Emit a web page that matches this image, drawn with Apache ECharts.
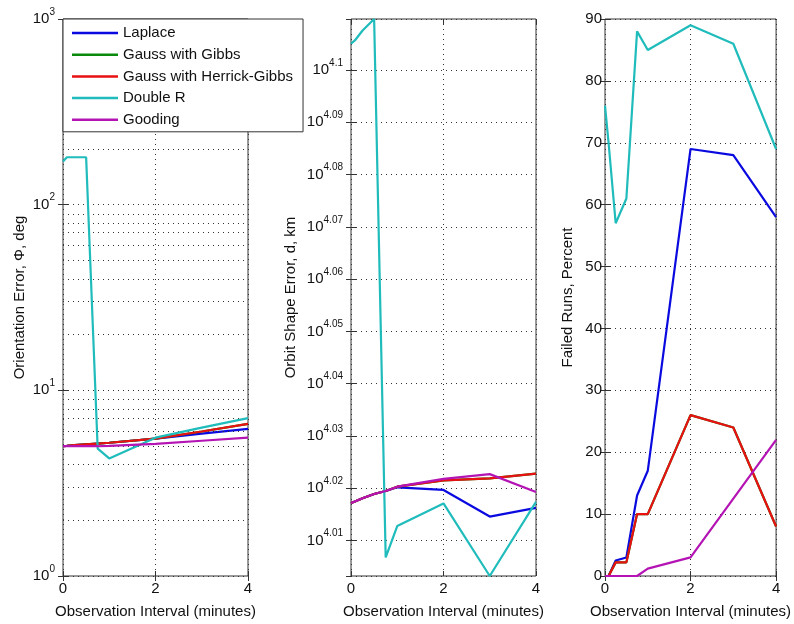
<!DOCTYPE html>
<html><head><meta charset="utf-8">
<script src="https://cdn.jsdelivr.net/npm/echarts@6/dist/echarts.min.js"></script>
<style>html,body{margin:0;padding:0;background:#fff}#c{width:794px;height:624px}</style>
</head><body><div id="c"></div>
<script>
// ---- data ----
const seriesNames = ['Laplace', 'Gauss with Gibbs', 'Gauss with Herrick-Gibbs', 'Double R', 'Gooding'];
const seriesColors = ['#0a0ae0', '#0a8a0a', '#e81010', '#20bcbc', '#b414b4'];
const intervalMinutes = [0, 0.0833, 0.25, 0.5, 0.75, 1, 2, 3, 4];

// Orientation error, deg (log scale)
const orientLaplace  = [5.0, 5.02, 5.07, 5.12, 5.17, 5.22, 5.5, 5.85, 6.2];
const orientGibbs    = [5.0, 5.02, 5.07, 5.12, 5.17, 5.22, 5.5, 6.0, 6.6];
const orientHerrick  = [5.0, 5.02, 5.07, 5.12, 5.17, 5.22, 5.5, 6.0, 6.6];
const orientDoubleR  = [171, 180, 180, 180, 4.85, 4.3, 5.56, 6.3, 7.08];
const orientGooding  = [5.0, 5.0, 5.0, 5.0, 5.0, 5.02, 5.15, 5.35, 5.56];
const orientMinorTicks = [2,3,4,5,6,7,8,9,20,30,40,50,60,70,80,90,200,300,400,500,600,700,800,900];

// Orbit shape error, km (log scale)
const shapeLaplace = [10404, 10411, 10426, 10445, 10459, 10476, 10464, 10342, 10382];
const shapeGibbs   = [10404, 10411, 10426, 10445, 10459, 10479, 10508, 10517, 10539];
const shapeHerrick = [10404, 10411, 10426, 10445, 10459, 10479, 10508, 10517, 10539];
const shapeDoubleR = [12735, 12753, 12809, 12874, 10158, 10299, 10402, 10075, 10409];
const shapeGooding = [10404, 10411, 10426, 10445, 10459, 10479, 10515, 10537, 10454];

// Failed runs, percent
const failLaplace = [0, 0, 2.5, 3, 13, 17, 69, 68, 58];
const failGibbs   = [0, 0, 2.2, 2.2, 10, 10, 26, 24, 8];
const failHerrick = [0, 0, 2.2, 2.2, 10, 10, 26, 24, 8];
const failDoubleR = [76, 70, 57, 61, 88, 85, 89, 86, 69];
const failGooding = [0, 0, 0, 0, 0, 1.2, 3, 12.5, 22];

// ---- chart ----
const FONT = '"Liberation Sans", Arial, Helvetica, sans-serif';
const TXT = '#111';
const panels = [
  { grid: {left: 63, top: 19, width: 185, height: 561}, sets: [orientLaplace, orientGibbs, orientHerrick, orientDoubleR, orientGooding], log: true },
  { grid: {left: 351, top: 19, width: 185, height: 561}, sets: [shapeLaplace, shapeGibbs, shapeHerrick, shapeDoubleR, shapeGooding], log: true },
  { grid: {left: 605, top: 19, width: 184, height: 561}, sets: [failLaplace, failGibbs, failHerrick, failDoubleR, failGooding], log: false }
];
const shapeAll = [].concat(shapeLaplace, shapeGibbs, shapeHerrick, shapeDoubleR, shapeGooding);
const shapeMin = Math.log10(Math.min.apply(null, shapeAll));
const shapeMax = Math.log10(Math.max.apply(null, shapeAll));

const dotted = {type: [1, 4], color: '#333', width: 1};
const tick = {show: true, inside: true, length: 5, lineStyle: {color: '#333', width: 1}};
const supRich = {
  b: {fontSize: 15, fontFamily: FONT, color: TXT},
  s: {fontSize: 10, fontFamily: FONT, color: TXT, padding: [0, 0, 14, 0]}
};

const xAxes = [], yAxes = [];
for (let i = 0; i < 3; i++) {
  xAxes.push({
    type: 'value', gridIndex: i, min: 0, max: 4, interval: 2, position: 'bottom',
    name: 'Observation Interval (minutes)', nameLocation: 'middle', nameGap: 28,
    nameMoveOverlap: false,
    nameTextStyle: {fontSize: 15, color: TXT, fontFamily: FONT},
    axisLine: {show: false}, axisTick: tick,
    axisLabel: {margin: 5, fontSize: 15, color: TXT, fontFamily: FONT},
    splitLine: {show: true, lineStyle: dotted}
  });
}
for (let i = 0; i < 3; i++) {
  xAxes.push({
    type: 'value', gridIndex: i, min: 0, max: 4, interval: 2, position: 'top',
    axisLine: {show: false}, axisTick: tick, axisLabel: {show: false}, splitLine: {show: false}
  });
}
const yBase = [
  {min: 0, max: 3, interval: 1},
  {min: shapeMin, max: shapeMax, minInterval: 0.01, maxInterval: 0.01, splitNumber: 10},
  {min: 0, max: 90, interval: 10}
];
const yNames = ['Orientation Error, \u03A6, deg', 'Orbit Shape Error, d, km', 'Failed Runs, Percent'];
const yGaps = [36, 53, 30];
const yLabels = [
  {margin: 8, formatter: v => '{b|10}{s|' + Math.round(v) + '}', rich: supRich},
  {margin: 8, showMinLabel: false, showMaxLabel: false, formatter: v => '{b|10}{s|' + (+v.toFixed(2)) + '}', rich: supRich},
  {margin: 3, fontSize: 15, color: TXT, fontFamily: FONT}
];
for (let i = 0; i < 3; i++) {
  yAxes.push(Object.assign({
    type: 'value', gridIndex: i, position: 'left',
    name: yNames[i], nameLocation: 'middle', nameGap: yGaps[i], nameMoveOverlap: false,
    nameTextStyle: {fontSize: 15, color: TXT, fontFamily: FONT},
    axisLine: {show: false}, axisTick: tick, axisLabel: yLabels[i],
    splitLine: {show: true, lineStyle: dotted}
  }, yBase[i]));
}
for (let i = 0; i < 3; i++) {
  yAxes.push(Object.assign({
    type: 'value', gridIndex: i, position: 'right',
    axisLine: {show: false}, axisTick: tick, axisLabel: {show: false}, splitLine: {show: false}
  }, yBase[i]));
}

const series = [];
// minor log gridlines for the orientation panel
series.push({
  type: 'line', name: '_minor', xAxisIndex: 0, yAxisIndex: 0, data: [], silent: true,
  markLine: {
    silent: true, symbol: 'none', label: {show: false}, animation: false,
    lineStyle: dotted,
    data: orientMinorTicks.map(v => ({yAxis: Math.log10(v)}))
  }
});
panels.forEach((p, pi) => {
  p.sets.forEach((vals, si) => {
    series.push({
      type: 'line', name: seriesNames[si], xAxisIndex: pi, yAxisIndex: pi,
      color: seriesColors[si], symbol: 'none', showSymbol: false,
      lineStyle: {width: 2.2, color: seriesColors[si]},
      data: intervalMinutes.map((x, k) => [x, p.log ? Math.log10(vals[k]) : vals[k]]),
      z: 3 + si
    });
  });
});

const option = {
  animation: false,
  backgroundColor: '#fff',
  grid: panels.map(p => Object.assign({show: true, borderColor: '#333', borderWidth: 1, backgroundColor: 'transparent'}, p.grid)),
  xAxis: xAxes,
  yAxis: yAxes,
  legend: {
    data: seriesNames, left: 63, top: 19, orient: 'vertical',
    icon: 'rect', itemWidth: 46, itemHeight: 2.5, itemGap: 5.7,
    padding: [6, 10, 4, 9],
    backgroundColor: '#fff', borderColor: '#333', borderWidth: 1, borderRadius: 0,
    selectedMode: false, z: 10,
    textStyle: {fontSize: 15, fontFamily: FONT, color: TXT, lineHeight: 16}
  },
  series: series
};
const chart = echarts.init(document.getElementById('c'), null, {renderer: 'canvas'});
chart.setOption(option);
</script>
</body></html>
